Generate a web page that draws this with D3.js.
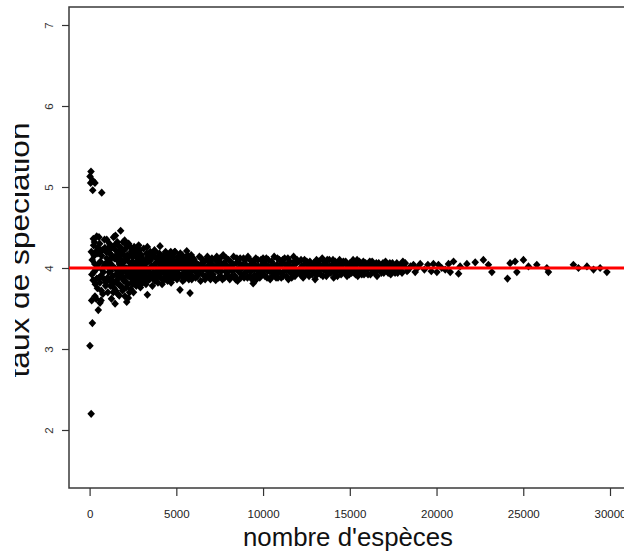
<!DOCTYPE html>
<html lang="fr">
<head>
<meta charset="UTF-8">
<script src="https://cdn.jsdelivr.net/npm/d3@7/dist/d3.min.js"></script>
<style>
  html, body { margin: 0; padding: 0; background: #fff; }
  svg { display: block; font-family: "Liberation Sans", Arial, sans-serif; }
</style>
</head>
<body>
<svg id="chart" width="624" height="560"></svg>
<script>
// ---------------------------------------------------------------
// Data: [nombre d'espèces, taux de spéciation]
// ---------------------------------------------------------------
const smallClades = [
  [80,5.19],[25,5.13],[60,5.05],[180,5.08],[310,5.05],[180,4.96],[700,4.93],
  [120,3.60],[500,3.48],[160,3.32],[20,3.04],[90,2.20],
  [310,3.65],[600,3.57],[410,3.87],[215,4.36],[410,4.39],[990,4.35],
  [150,4.10],[250,3.95],[350,4.20],[450,3.75],[520,4.05],[580,4.30],[640,3.90],
  [700,4.15],[760,3.68],[820,4.02],[880,4.25],[940,3.82],[990,4.12],[130,3.92],
  [230,4.28],[330,3.80],[430,4.00],[480,4.18],[560,3.88],[620,4.08],[680,3.72],
  [740,4.22],[800,3.95],[860,4.35],[920,3.78],[970,4.05],[380,3.62],[660,3.60],
  [540,4.38],[280,4.32],
  [100,4.20],[200,3.85],[260,4.15],[360,3.98],[460,4.25],[600,3.82],[720,3.98],
  [850,3.86],[950,4.20],[300,4.05],[650,4.22],[900,4.05]
];

const mediumClades = [
  [1050,3.70],[1080,4.20],[1120,3.95],[1150,4.30],[1190,3.85],[1230,4.05],[1260,3.62],
  [1300,4.15],[1340,3.90],[1380,4.38],[1410,3.75],[1450,4.00],[1470,3.56],[1500,4.22],
  [1540,3.82],[1580,4.10],[1620,3.68],[1650,4.28],[1690,3.93],[1720,4.05],[1760,3.78],
  [1790,4.46],[1820,3.98],[1860,4.18],[1900,3.72],[1930,4.32],[1960,3.88],[2000,4.08],
  [2040,3.65],[2080,4.24],[2120,3.94],[2140,3.58],[2160,4.12],[2200,3.80],[2230,3.63],
  [2250,4.30],[2290,3.90],[2330,4.02],[2370,3.74],[2410,4.20],[2450,3.86],[2490,4.14],
  [2530,3.70],[2570,4.26],[2610,3.96],[2650,4.06],[2690,3.78],[2730,4.18],[2770,3.84],
  [2810,4.10],[2850,3.92],[2890,4.22],[2930,3.76],[2970,4.04],
  [1100,4.08],[1200,3.78],[1280,4.25],[1360,3.70],[1430,4.12],[1520,3.92],[1600,4.32],
  [1680,3.80],[1740,4.15],[1840,3.88],[1880,4.02],[1980,4.22],[2060,3.84],[2100,4.00],
  [2180,4.16],[2270,3.96],[2350,4.26],[2430,3.82],[2510,4.00],[2590,3.88],[2670,4.14],
  [2750,3.98],[2830,4.28],[2910,3.86],[2990,4.16],[1020,4.02],[1170,4.18],[1320,3.84],
  [1490,4.40],[1560,3.98],[1710,3.66],[1800,4.25],[1950,3.96],[2020,4.34],[2220,3.90],
  [2380,3.98],[2470,4.08],[2550,3.94],[2630,3.80],[2710,4.02],[2790,4.06],[2870,3.82],
  [2950,3.98],
  [1040,3.88],[1130,4.26],[1210,3.96],[1250,4.12],[1330,4.02],[1390,3.82],[1440,4.28],
  [1510,3.72],[1550,4.16],[1610,3.86],[1660,4.00],[1700,4.20],[1770,3.92],[1830,4.10],
  [1870,3.76],[1910,4.06],[1970,3.84],[2050,4.14],[2110,3.76],[2150,4.28],[2190,3.98],
  [2240,4.08],[2300,3.70],[2340,4.16],[2400,3.92],[2440,4.22],[2500,3.80],[2540,4.06],
  [2600,4.18],[2640,3.90],[2700,4.24],[2740,3.88],[2800,4.00],[2840,4.16],[2880,3.94],
  [2940,4.10],[2980,3.80],
  [3030,4.12],[3080,3.85],[3120,4.24],[3160,3.95],[3200,4.05],[3250,3.80],[3290,4.18],
  [3330,3.67],[3330,4.26],[3370,3.98],[3420,4.08],[3460,3.86],[3500,4.20],[3540,3.92],
  [3580,4.02],[3620,3.78],[3660,4.15],[3700,3.90],[3740,4.22],[3780,3.84],[3820,4.06],
  [3860,3.96],[3900,4.12],[3940,3.82],[3980,4.00],[4020,4.18],[4060,4.27],[4100,3.88],
  [4140,4.08],[4180,3.80],[4220,4.14],[4260,3.94],[4300,4.04],[4340,3.86],[4380,4.20],
  [4420,3.92],[4460,4.10],[4500,3.84],[4540,4.00],[4580,4.16],[4620,3.90],[4660,4.06],
  [4700,3.82],[4740,4.12],[4780,3.96],[4820,4.02],[4860,3.88],[4900,4.20],[4930,4.20],
  [4960,3.94],[5000,4.08],[5040,3.86],[5080,4.14],[5120,3.98],[5160,4.04],[5210,3.73],
  [5250,4.10],[5290,3.90],[5330,4.16],[5370,3.84],[5410,4.02],[5450,3.94],[5490,4.12],
  [5530,3.88],[5570,4.06],[5600,4.21],[5640,3.92],[5680,4.00],[5720,3.86],[5760,4.10],
  [5790,3.69],[5830,3.96],[5870,4.08],[5910,3.90],[5950,4.04],
  [3050,3.95],[3140,4.02],[3230,3.90],[3310,4.10],[3400,3.86],[3480,4.00],[3560,4.16],
  [3640,3.94],[3720,4.04],[3800,4.20],[3880,3.88],[3960,4.14],[4040,3.92],[4120,4.00],
  [4200,3.98],[4280,4.16],[4360,3.96],[4440,3.88],[4520,4.12],[4600,3.96],[4680,4.20],
  [4760,3.90],[4840,4.10],[4920,3.98],[5020,3.94],[5100,4.02],[5180,3.92],[5230,4.18],
  [5310,4.00],[5390,4.14],[5470,3.86],[5550,3.98],[5620,4.12],[5700,4.06],[5780,3.94],
  [5860,4.16],[5930,3.98],
  [3010,3.90],[3100,4.06],[3180,3.84],[3270,4.00],[3350,4.14],[3440,3.94],[3520,4.10],
  [3600,3.88],[3680,4.02],[3760,3.94],[3840,4.12],[3920,3.90],[4000,4.06],[4080,3.96],
  [4160,4.12],[4240,3.86],[4320,4.08],[4400,4.02],[4480,3.96],[4560,4.06],[4640,3.86],
  [4720,4.00],[4800,4.14],[4880,3.92],[4950,4.06],[5060,4.00],[5140,3.90],[5200,4.10],
  [5280,4.06],[5350,3.92],[5430,4.08],[5510,4.00],[5590,3.90],[5660,4.16],[5740,3.98],
  [5820,4.04],[5890,3.86],[5970,4.12]
];

const largeClades = [
  [6030,4.10],[6110,3.88],[6180,4.02],[6250,3.94],[6330,4.14],[6400,3.84],[6480,4.06],
  [6550,3.98],[6620,4.08],[6690,3.90],[6750,4.10],[6830,3.96],[6900,4.04],[6970,3.86],
  [7050,4.12],[7120,3.92],[7200,4.00],[7270,3.85],[7330,4.14],[7400,3.96],[7480,4.08],
  [7550,3.90],[7620,4.02],[7700,4.16],[7780,3.88],[7850,4.04],[7930,3.94],
  [8010,4.10],[8080,3.86],[8160,4.02],[8230,3.96],[8300,4.14],[8380,3.90],[8450,4.06],
  [8530,3.84],[8600,4.00],[8680,4.12],[8750,3.92],[8830,4.04],[8910,3.88],[8980,4.10],
  [9060,3.96],[9130,4.14],[9210,3.90],[9280,4.04],[9360,3.86],[9430,3.81],[9430,4.08],
  [9510,3.98],[9580,4.12],[9660,3.92],[9730,4.02],[9810,3.88],[9880,4.10],[9960,3.96],
  [10040,4.06],[10110,3.90],[10190,4.12],[10260,3.96],[10340,4.02],[10410,3.86],[10490,4.08],
  [10560,3.94],[10640,4.14],[10710,3.92],[10790,4.04],[10860,3.88],[10940,4.10],
  [11010,3.94],[11090,4.06],[11160,3.90],[11240,4.12],[11310,3.98],[11390,4.04],[11460,3.86],
  [11540,4.08],[11610,3.94],[11690,4.02],[11760,4.14],[11840,3.90],[11920,4.06],[11990,3.96],
  [6070,3.96],[6140,4.06],[6220,3.90],[6290,4.04],[6370,3.98],[6440,4.12],[6520,3.92],
  [6590,4.02],[6660,3.86],[6720,4.00],[6790,4.14],[6870,3.90],[6940,4.08],[7010,3.96],
  [7090,4.04],[7160,3.88],[7240,4.10],[7300,3.98],[7370,4.04],[7440,3.88],[7520,4.12],
  [7590,3.96],[7660,3.86],[7740,4.06],[7820,3.96],[7890,4.12],[7970,3.90],[8050,4.00],
  [8120,4.08],[8200,3.90],[8270,4.04],[8340,3.98],[8420,3.86],[8490,4.12],[8570,3.96],
  [8640,4.06],[8720,3.88],[8790,4.00],[8870,4.12],[8940,3.94],[9020,4.04],[9100,3.88],
  [9170,4.00],[9250,4.10],[9320,3.96],[9400,4.00],[9470,3.90],[9550,4.04],[9620,3.86],
  [9700,4.10],[9770,3.96],[9850,4.02],[9920,3.92],[10000,4.12],[10080,3.98],[10150,4.04],
  [10230,3.88],[10300,4.10],[10380,3.96],[10450,4.00],[10530,3.90],[10600,4.04],[10680,3.98],
  [10750,3.88],[10830,4.12],[10900,3.96],[10980,4.02],[11050,3.88],[11130,4.10],[11200,3.96],
  [11280,4.04],[11350,3.90],[11430,4.12],[11500,3.96],[11580,4.02],[11650,3.88],[11730,3.98],
  [11800,4.08],[11880,3.94],[11960,4.10]
];

const veryLargeClades = [
  [12070,4.08],[12150,3.92],[12230,4.02],[12310,3.88],[12390,4.10],[12480,3.96],[12560,4.04],
  [12650,3.90],[12740,4.00],[12830,3.92],[12920,4.06],[13000,3.86],[13080,4.10],[13160,3.96],
  [13240,4.04],[13320,3.92],[13410,4.12],[13490,3.98],[13570,4.06],[13650,3.90],[13740,4.02],
  [13820,4.10],[13900,3.94],[13990,4.04],[14070,3.88],[14160,4.08],[14240,3.96],[14330,4.02],
  [14410,4.10],[14500,3.92],[14580,4.04],[14670,3.96],[14760,4.08],[14840,3.90],[14930,4.02],
  [15010,4.06],[15100,3.94],[15190,4.10],[15280,3.98],[15370,4.04],[15460,3.90],[15550,4.08],
  [15640,3.96],[15730,4.02],[15820,3.92],[15910,4.06],[16000,3.98],[16100,4.04],[16190,3.92],
  [16290,4.08],[16380,3.96],[16480,4.02],[16570,3.90],[16670,4.06],[16770,3.98],[16860,4.04],
  [16960,3.94],[17060,4.08],[17160,3.96],[17260,4.02],[17360,3.92],[17460,4.06],[17560,3.98],
  [17660,4.04],[17760,3.94],[17860,4.02],[17960,3.96],[18060,4.08],
  [12110,3.98],[12190,4.10],[12270,3.96],[12350,4.04],[12440,3.92],[12520,4.08],[12600,3.96],
  [12700,4.08],[12790,3.98],[12870,4.02],[12960,3.94],[13040,4.02],[13120,3.92],[13200,4.08],
  [13280,3.98],[13370,4.02],[13450,3.90],[13530,4.08],[13610,3.96],[13700,4.10],[13780,3.94],
  [13860,4.02],[13950,3.98],[14030,4.10],[14120,3.94],[14200,4.04],[14290,3.90],[14370,3.98],
  [14460,4.06],[14540,3.96],[14630,4.08],[14710,3.94],[14800,4.04],[14880,3.98],[14970,3.92],
  [15060,4.02],[15150,3.96],[15240,4.06],[15330,3.92],[15420,4.10],[15510,3.96],[15600,4.04],
  [15690,3.92],[15780,4.08],[15870,3.98],[15960,4.02],[16050,3.92],[16150,4.08],[16240,3.98],
  [16340,4.02],[16430,3.94],[16530,4.06],[16620,3.98],[16720,4.02],[16820,3.94],[16910,4.06],
  [17010,3.98],[17110,4.02],[17210,3.94],[17310,4.06],[17410,3.98],[17510,4.02],[17610,3.94],
  [17710,4.06],[17810,3.98],[17910,4.04],[18010,3.94],[18120,4.02],
  [18200,4.06],[18670,4.04],[19060,4.05],[18380,3.98],[18770,3.95],[19820,4.05],[20110,4.04],
  [18300,3.96],[18500,4.02],[18900,4.00],[19300,3.98],[19500,4.04],[19700,3.96],[20300,4.00],
  [20500,3.98],
  [20020,3.95],[20690,4.05],[20980,4.08],[20790,3.95],[21270,3.93],[21360,4.02],[21750,4.05],
  [22230,4.07],[22700,4.10],[22990,4.04],[23190,3.95],[24090,3.87],[24240,4.06],[24530,4.08],
  [24630,3.95],[25010,4.10],[25300,4.02],[25780,4.04],[26450,3.95],[26360,4.00],[27890,4.04],
  [28180,4.00],[28670,4.02],[29050,3.98],[29430,4.00],[29820,3.95]
];

const xTicks = [0, 5000, 10000, 15000, 20000, 25000, 30000];
const yTicks = [2, 3, 4, 5, 6, 7];
const referenceRate = 4;
const xTitle = "nombre d'espèces";
const yTitle = "taux de speciation";

// ---------------------------------------------------------------
// Layout
// ---------------------------------------------------------------
const svg = d3.select("#chart");
const x = d3.scaleLinear().domain([0, 30000]).range([89.6, 610]);
const y = d3.scaleLinear().domain([2, 7]).range([430, 25]);

const box = { left: 69, top: 7, bottom: 488, right: 640 };

// plot frame
svg.append("rect")
  .attr("x", box.left).attr("y", box.top)
  .attr("width", box.right - box.left).attr("height", box.bottom - box.top)
  .attr("fill", "none").attr("stroke", "#3a3a3a").attr("stroke-width", 1.5);

// x axis
const xAxis = svg.append("g")
  .attr("transform", `translate(0,${box.bottom})`)
  .call(d3.axisBottom(x).tickValues(xTicks).tickSize(8).tickPadding(14).tickFormat(d3.format("d")));
xAxis.select(".domain").remove();
xAxis.selectAll("line").attr("stroke", "#333").attr("stroke-width", 1.2);
xAxis.selectAll("text").attr("font-size", 11.5).attr("fill", "#222")
  .attr("font-family", "Liberation Sans, Arial, sans-serif");

// y axis
const yAxis = svg.append("g")
  .attr("transform", `translate(${box.left},0)`)
  .call(d3.axisLeft(y).tickValues(yTicks).tickSize(7).tickFormat(d3.format("d")));
yAxis.select(".domain").remove();
yAxis.selectAll("line").attr("stroke", "#333").attr("stroke-width", 1.2);
yAxis.selectAll("text")
  .attr("x", null).attr("dy", null)
  .attr("text-anchor", "middle")
  .attr("transform", "translate(-16,0) rotate(-90)")
  .attr("y", 0)
  .attr("font-size", 11.5).attr("fill", "#333")
  .attr("font-family", "Liberation Sans, Arial, sans-serif");

// points (filled diamonds)
const diamond = "M0,-4.1L3.8,0L0,4.1L-3.8,0Z";
const allPoints = smallClades.concat(mediumClades, largeClades, veryLargeClades);
svg.append("g").selectAll("path")
  .data(allPoints)
  .join("path")
  .attr("d", diamond)
  .attr("transform", d => `translate(${x(d[0])},${y(d[1])})`)
  .attr("fill", "#000");

// reference line
svg.append("line")
  .attr("x1", box.left).attr("x2", box.right)
  .attr("y1", y(referenceRate)).attr("y2", y(referenceRate))
  .attr("stroke", "#ff0000").attr("stroke-width", 3);

// titles
svg.append("text")
  .attr("x", 348).attr("y", 546)
  .attr("text-anchor", "middle")
  .attr("font-size", 25)
  .attr("textLength", 210).attr("lengthAdjust", "spacingAndGlyphs")
  .attr("fill", "#111")
  .text(xTitle);

svg.append("clipPath").attr("id", "ylab-clip")
  .append("rect").attr("x", 15).attr("y", 0).attr("width", 40).attr("height", 560);

svg.append("g").attr("clip-path", "url(#ylab-clip)")
  .append("text")
  .attr("transform", "translate(29,250) rotate(-90)")
  .attr("text-anchor", "middle")
  .attr("font-size", 27)
  .attr("textLength", 255).attr("lengthAdjust", "spacingAndGlyphs")
  .attr("fill", "#111")
  .text(yTitle);
</script>
</body>
</html>
